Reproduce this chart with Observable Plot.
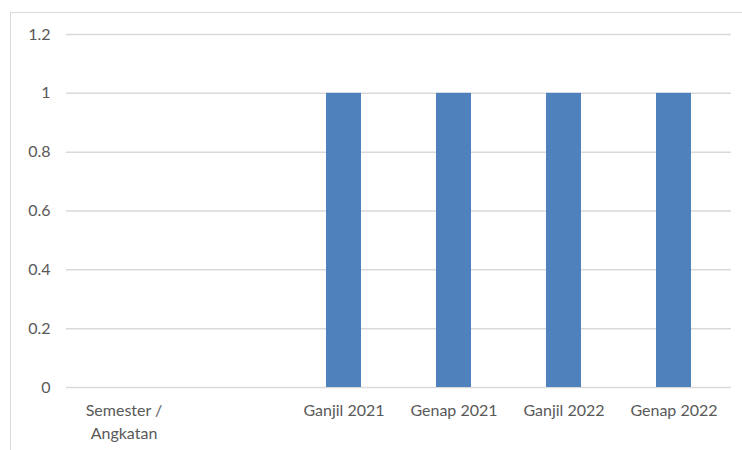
<!DOCTYPE html>
<html>
<head>
<meta charset="utf-8">
<script src="https://cdn.jsdelivr.net/npm/d3@7"></script>
<script src="https://cdn.jsdelivr.net/npm/@observablehq/plot@0.6"></script>
<style>
  html, body { margin: 0; padding: 0; background: #fff; }
  #wrap { position: relative; width: 742px; height: 450px; overflow: hidden; }
  #frame { position: absolute; left: 10px; top: 12px; width: 800px; height: 500px;
           border-left: 1.5px solid #d9d9d9; border-top: 1.5px solid #d9d9d9; box-sizing: border-box; }
  #chart { position: absolute; left: 0; top: 0; }
</style>
</head>
<body>
<div id="wrap"><div id="frame"></div><div id="chart"></div></div>
<script>
const categories = ["Semester /\nAngkatan", " ", "Ganjil 2021", "Genap 2021", "Ganjil 2022", "Genap 2022"];
const values = [0, 0, 1, 1, 1, 1];
const yTicks = [0, 0.2, 0.4, 0.6, 0.8, 1, 1.2];

const data = categories.map((c, i) => ({category: c, value: values[i]}));

const chart = Plot.plot({
  width: 742,
  height: 450,
  marginLeft: 66,
  marginRight: 11,
  marginTop: 34,
  marginBottom: 63,
  style: {fontFamily: "Lato, 'Open Sans', sans-serif", fontSize: "16px", color: "#595959", background: "transparent"},
  x: {domain: categories, paddingInner: 0.68, paddingOuter: 0.34, label: null},
  y: {domain: [0, 1.2], label: null},
  marks: [
    Plot.ruleY(yTicks, {stroke: "#d9d9d9", strokeWidth: 1.5}),
    Plot.barY(data, {x: "category", y: "value", fill: "#4f81bd"}),
    Plot.axisY({ticks: yTicks, tickSize: 0, tickPadding: 16, tickFormat: d => String(d), label: null, fill: "#595959"}),
    Plot.axisX({tickSize: 0, tickPadding: 13, label: null, lineHeight: 1.4, fill: "#595959"})
  ]
});
document.getElementById("chart").appendChild(chart);
</script>
</body>
</html>
